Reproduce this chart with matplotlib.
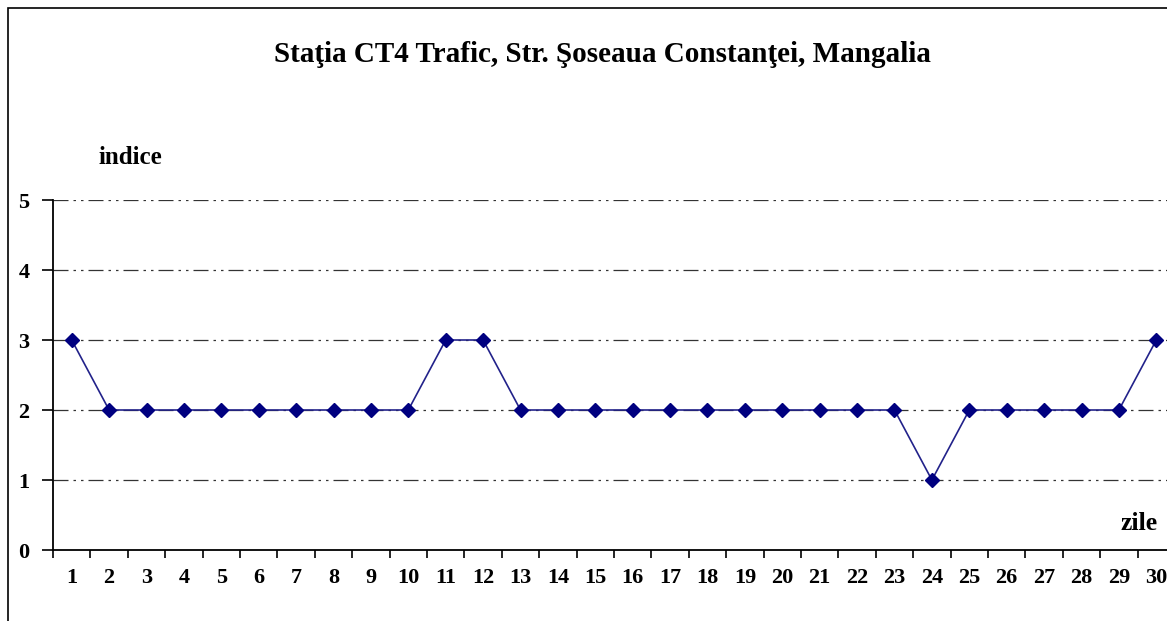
import matplotlib.pyplot as plt
import matplotlib.patches as patches

days = list(range(1, 31))
indice = [3, 2, 2, 2, 2, 2, 2, 2, 2, 2, 3, 3, 2, 2, 2, 2, 2, 2, 2, 2,
          2, 2, 2, 1, 2, 2, 2, 2, 2, 3]
yticks = [0, 1, 2, 3, 4, 5]
title = "Staţia CT4 Trafic, Str. Şoseaua Constanţei, Mangalia"

plt.rcParams["font.family"] = ["Liberation Serif", "DejaVu Serif"]
plt.rcParams["font.weight"] = "bold"

W, H = 1167, 621
fig = plt.figure(figsize=(W / 100, H / 100), dpi=100)
ax = fig.add_axes([53 / W, 1 - 550 / H, 1122 / W, 350 / H])

ax.plot(days, indice, color="#22228a", lw=1.2, marker="D", ms=7,
        mfc="#000080", mec="#000080", clip_on=False, zorder=3)

ax.set_xlim(0.5, 30.5)
ax.set_ylim(0, 5)
ax.set_yticks(yticks)
ax.set_yticklabels([str(v) for v in yticks], fontsize=16, fontweight="bold")
ax.set_xticks(days)
ax.set_xticklabels([str(d) for d in days], fontsize=16, fontweight="bold")
ax.set_xticks([d + 0.5 for d in range(0, 30)], minor=True)
ax.tick_params(axis="x", which="major", length=0, pad=13)
ax.tick_params(axis="x", which="minor", length=6, width=1.2, direction="out")
ax.tick_params(axis="y", length=8, width=1.2, direction="out", pad=9)

for s in ("top", "right"):
    ax.spines[s].set_visible(False)
for s in ("left", "bottom"):
    ax.spines[s].set_linewidth(1.3)

for v in yticks[1:]:
    ax.axhline(v, color="#333333", lw=0.9, ls=(0, (12, 4, 2, 4, 2, 4)), zorder=1)

fig.text(602 / W, 1 - 55 / H, title, ha="center", va="center",
         fontsize=21, fontweight="bold")
fig.text(130 / W, 1 - 158 / H, "indice", ha="center", va="center",
         fontsize=18, fontweight="bold")
fig.text(1139 / W, 1 - 523 / H, "zile", ha="center", va="center",
         fontsize=18.5, fontweight="bold")

frame = patches.Rectangle((8 / W, -0.1), 1.2, 1 - 8 / H + 0.1,
                          transform=fig.transFigure, fill=False,
                          ec="black", lw=1.2, clip_on=False)
fig.patches.append(frame)

fig.savefig("out.png", dpi=100)
